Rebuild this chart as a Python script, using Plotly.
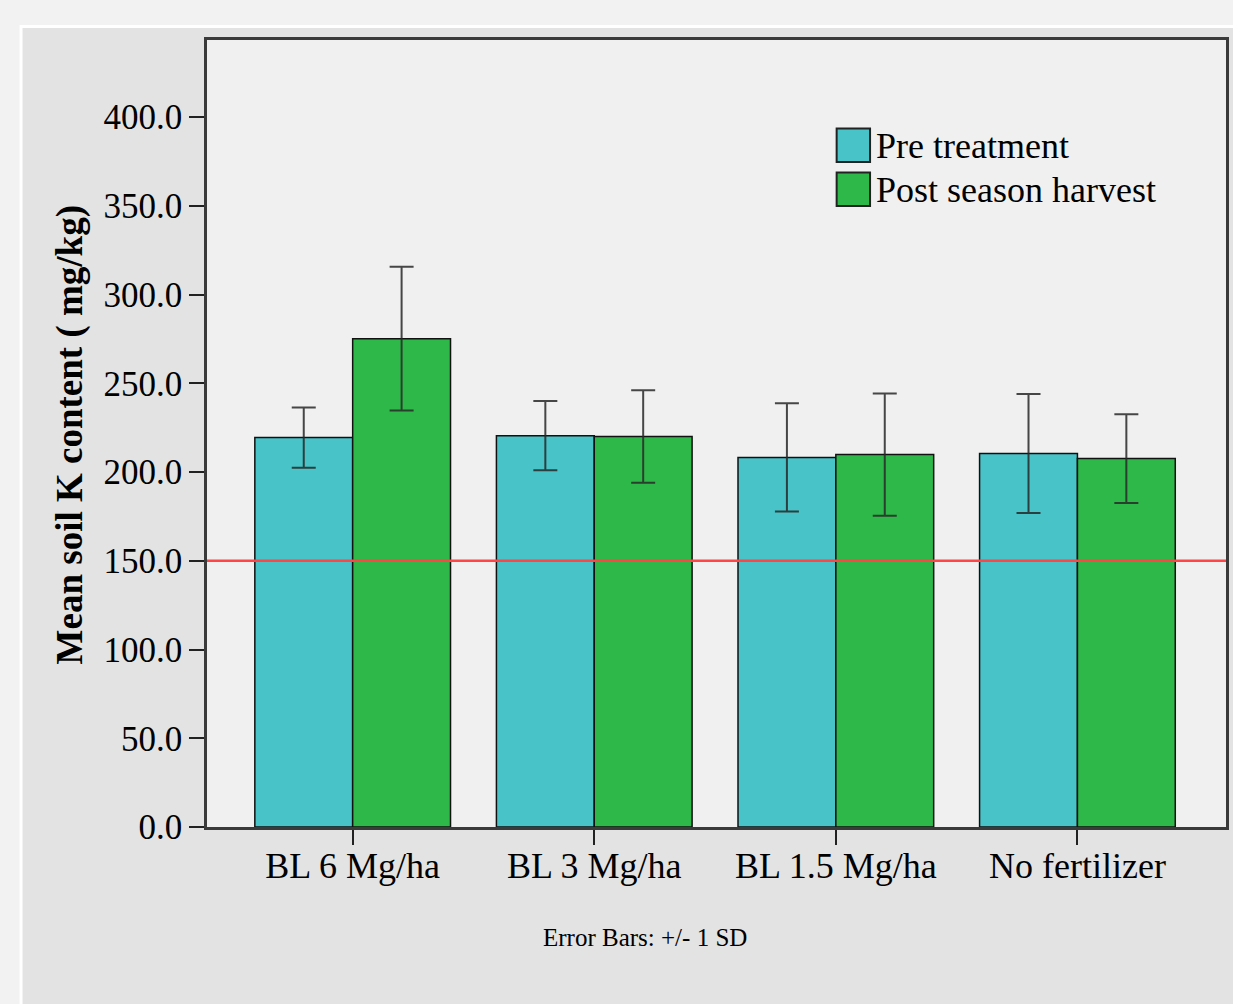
import plotly.graph_objects as go

# Treatments and mean soil K content (mg/kg) with +/- 1 SD
categories = ["BL 6 Mg/ha", "BL 3 Mg/ha", "BL 1.5 Mg/ha", "No fertilizer"]
pre_mean = [219.4, 220.5, 208.2, 210.4]
pre_sd = [17.0, 19.5, 30.5, 33.5]
post_mean = [275.1, 220.0, 209.8, 207.6]
post_sd = [40.5, 26.0, 34.5, 25.0]
series_names = ["Pre treatment", "Post season harvest"]
y_ticks = [0, 50, 100, 150, 200, 250, 300, 350, 400]
reference_level = 150.0

W, H = 1233, 1004
L, R, T, B = 207, 1229, 40, 827  # plot-area edges in pixels

def px_x(p):
    return (p - L) / (R - L)

def px_y(p):
    return (B - p) / (B - T)

SERIF = "Liberation Serif, Times New Roman, serif"
PRE_COLOR = "#48c3c8"
POST_COLOR = "#2fb84a"
ERR_COLOR = "rgba(40,40,40,0.85)"

fig = go.Figure()
for name, vals, sds, color in [
    (series_names[0], pre_mean, pre_sd, PRE_COLOR),
    (series_names[1], post_mean, post_sd, POST_COLOR),
]:
    fig.add_trace(go.Bar(
        x=categories, y=vals, name=name,
        marker=dict(color=color, line=dict(color="#111111", width=1.5)),
        error_y=dict(type="data", array=sds, visible=True,
                     color=ERR_COLOR, thickness=2, width=12),
        showlegend=False,
    ))

shapes = [
    # grey chart panel with thin white edge
    dict(type="rect", xref="paper", yref="paper",
         x0=px_x(20.5), x1=px_x(1300), y0=px_y(26.5), y1=px_y(1100),
         fillcolor="#e3e3e3", line=dict(color="#ffffff", width=3), layer="below"),
    # plot area background
    dict(type="rect", xref="paper", yref="paper",
         x0=0, x1=1, y0=0, y1=1,
         fillcolor="#f0f0f0", line=dict(width=0), layer="below"),
    # reference line
    dict(type="line", xref="paper", yref="y",
         x0=0, x1=1, y0=reference_level, y1=reference_level,
         line=dict(color="#ff4545", width=2.5), layer="above"),
]

annotations = [
    dict(text="<b>Mean soil K content ( mg/kg)</b>", textangle=-90,
         xref="paper", yref="paper", x=px_x(70), y=px_y(435),
         xanchor="center", yanchor="middle", showarrow=False,
         font=dict(family=SERIF, size=37, color="#000000")),
    dict(text="Error Bars: +/- 1 SD",
         xref="paper", yref="paper", x=px_x(646), y=px_y(937),
         xanchor="center", yanchor="middle", showarrow=False,
         font=dict(family=SERIF, size=25, color="#000000")),
]

# legend drawn as swatches and labels
for i, (name, color) in enumerate(zip(series_names, [PRE_COLOR, POST_COLOR])):
    top = 128 + i * 44
    shapes.append(dict(type="rect", xref="paper", yref="paper",
                       x0=px_x(838.5), x1=px_x(872), y0=px_y(top + 34), y1=px_y(top + 0.5),
                       fillcolor=color, line=dict(color="#222222", width=2), layer="above"))
    annotations.append(dict(text=name, xref="paper", yref="paper",
                            x=px_x(876), y=px_y(top + 18),
                            xanchor="left", yanchor="middle", showarrow=False,
                            font=dict(family=SERIF, size=36, color="#000000")))

fig.update_layout(
    width=W, height=H,
    margin=dict(l=L, r=W - R, t=T, b=H - B, pad=0),
    paper_bgcolor="#f2f2f2",
    plot_bgcolor="#f0f0f0",
    barmode="group", bargap=0.19, bargroupgap=0,
    shapes=shapes, annotations=annotations,
    font=dict(family=SERIF, size=36, color="#000000"),
)
fig.update_xaxes(
    range=[-0.603, 3.615], showgrid=False,
    showline=True, mirror=True, linecolor="#3a3a3a", linewidth=2.5,
    ticks="outside", ticklen=15, tickwidth=2, tickcolor="#222222",
    ticklabelstandoff=-10,
    tickfont=dict(family=SERIF, size=36, color="#000000"),
)
fig.update_yaxes(
    range=[0, 443.4], showgrid=False, zeroline=False,
    showline=True, mirror=True, linecolor="#3a3a3a", linewidth=2.5,
    tickvals=y_ticks, tickformat=".1f",
    ticks="outside", ticklen=15, tickwidth=2, tickcolor="#222222",
    tickfont=dict(family=SERIF, size=35, color="#000000"),
)

fig.write_html("out.html")
